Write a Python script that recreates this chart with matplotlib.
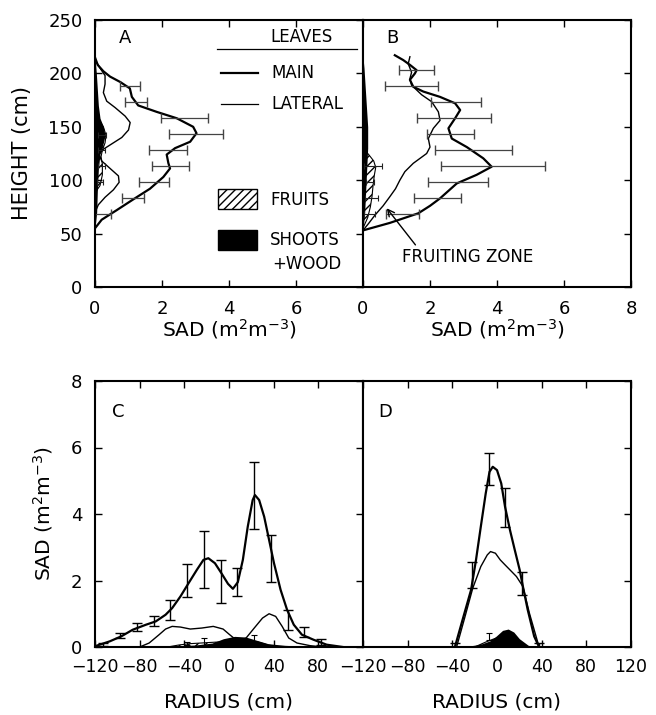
import matplotlib
matplotlib.use("Agg")
import matplotlib.pyplot as plt
from matplotlib.patches import Rectangle

plt.rcParams['font.family'] = ['DejaVu Sans']
plt.rcParams['mathtext.default'] = 'regular'

# ---- panel A: vertical profiles (SAD vs height), tree A ----
a_main_h = [55, 57, 63, 72, 82, 92, 103, 111, 116, 124, 130, 136, 144, 150, 158, 164, 170, 178, 186, 192, 197, 202, 208, 215]
a_main_x = [0, 0.05, 0.2, 0.65, 1.14, 1.64, 2.04, 2.24, 2.19, 2.14, 2.39, 2.84, 3.03, 2.93, 2.44, 1.84, 1.29, 1.1, 1.04, 0.75, 0.45, 0.25, 0.08, 0]
a_lat_h = [70, 77, 84, 91, 98, 104, 111, 118, 124, 129, 134, 140, 147, 154, 160, 168, 174, 182, 190, 198, 205, 213]
a_lat_x = [0, 0.1, 0.3, 0.55, 0.72, 0.7, 0.45, 0.2, 0.12, 0.25, 0.5, 0.8, 1.0, 1.05, 0.9, 0.6, 0.35, 0.25, 0.3, 0.3, 0.15, 0]
a_err_h = [68, 83, 98, 113, 128, 143, 158, 173, 188]
a_err_x = [0.22, 1.14, 1.76, 2.26, 2.18, 3.02, 2.67, 1.22, 1.05]
a_err_dx = [0.25, 0.32, 0.45, 0.55, 0.56, 0.8, 0.71, 0.32, 0.3]
a_shoot_h = [55, 70, 90, 110, 125, 135, 142, 150, 158, 170, 185, 200, 215]
a_shoot_x = [0, 0.05, 0.07, 0.1, 0.15, 0.25, 0.3, 0.25, 0.15, 0.1, 0.07, 0.04, 0]
a_fruit_h = [88, 95, 105, 115, 122, 128, 135, 142, 150, 157, 162]
a_fruit_x = [0, 0.15, 0.22, 0.22, 0.18, 0.22, 0.3, 0.33, 0.25, 0.12, 0]
a_ferr_h = [98, 113, 128, 142]
a_ferr_x = [0.15, 0.2, 0.2, 0.2]
a_ferr_dx = [0.08, 0.1, 0.1, 0.12]

# ---- panel B ----
b_main_h = [53, 60, 69, 76, 83, 90, 97, 105, 112.6, 120.5, 131, 139, 148.6, 158, 165.7, 172, 178, 183, 187.5, 194, 200, 203, 208, 212.5, 217]
b_main_x = [0, 0.8, 1.65, 2.0, 2.3, 2.55, 2.8, 3.39, 3.84, 3.59, 3.1, 2.65, 2.55, 2.75, 2.9, 2.75, 2.3, 1.8, 1.5, 1.4, 1.55, 1.6, 1.4, 1.2, 0.95]
b_lat_h = [53, 60, 67.4, 76, 84.5, 92, 100, 108, 115.8, 125, 131, 139, 148.6, 156, 164, 173.5, 180, 189, 195, 201, 209, 215.6]
b_lat_x = [0, 0.18, 0.36, 0.6, 0.8, 0.97, 1.1, 1.25, 1.5, 1.9, 2.0, 1.95, 2.1, 2.3, 2.25, 2.05, 1.75, 1.45, 1.4, 1.45, 1.35, 1.4]
b_err_h = [68, 83, 98, 113, 128, 143, 158, 173, 188, 203]
b_err_x = [1.18, 2.23, 2.84, 3.88, 3.3, 2.6, 2.71, 2.77, 1.45, 1.6]
b_err_dx = [0.49, 0.7, 0.89, 1.55, 1.15, 0.7, 1.1, 0.74, 0.78, 0.52]
b_shoot_h = [53, 70, 90, 110, 130, 150, 170, 190, 205, 215]
b_shoot_x = [0, 0.05, 0.08, 0.11, 0.14, 0.14, 0.1, 0.06, 0.03, 0]
b_fruit_h = [55, 65, 75, 85, 95, 105, 112, 118, 124, 130]
b_fruit_x = [0, 0.14, 0.22, 0.27, 0.3, 0.34, 0.38, 0.32, 0.17, 0]
b_ferr_h = [68, 83, 98, 113]
b_ferr_x = [0.2, 0.25, 0.2, 0.3]
b_ferr_dx = [0.17, 0.2, 0.12, 0.27]

# ---- panel C: horizontal profiles (SAD vs radius) ----
c_main_r = [-118.5, -106.8, -96.5, -86.2, -74.4, -65.6, -56.8, -50.9, -43.5, -36.2, -28.8, -22.9, -18.5, -12.6, -6.8, -0.9, 3.5, 7.9, 12.4, 16.8, 21.2, 23.2, 27, 31.5, 35.9, 40.3, 46.2, 52, 58, 65.3, 75.6, 87.4, 102]
c_main_s = [0.04, 0.17, 0.32, 0.52, 0.67, 0.77, 0.97, 1.17, 1.52, 1.92, 2.32, 2.62, 2.67, 2.52, 2.22, 1.9, 1.75, 1.95, 2.62, 3.62, 4.42, 4.57, 4.42, 3.92, 3.22, 2.52, 1.72, 1.12, 0.67, 0.37, 0.22, 0.07, 0]
c_lat_r = [-80, -71.5, -62.6, -56.8, -50.9, -43.5, -34.7, -24.4, -14.1, -5.3, 0.6, 7.9, 15.3, 22.6, 30, 35.9, 41.8, 47.6, 53.5, 60.9, 72.6, 84.4]
c_lat_s = [0, 0.12, 0.37, 0.54, 0.62, 0.6, 0.54, 0.57, 0.62, 0.54, 0.37, 0.17, 0.27, 0.57, 0.87, 1.0, 0.92, 0.62, 0.27, 0.12, 0.04, 0]
c_err_r = [-112.5, -97.5, -82.5, -67.5, -52.5, -37.5, -22.5, -7.5, 7.5, 22.5, 37.5, 52.5, 67.5, 82.5]
c_err_s = [0.08, 0.34, 0.6, 0.77, 1.12, 2.0, 2.64, 1.97, 1.95, 4.56, 2.66, 0.82, 0.45, 0.15]
c_err_ds = [0.04, 0.07, 0.13, 0.15, 0.3, 0.5, 0.86, 0.65, 0.43, 1.0, 0.71, 0.3, 0.15, 0.1]
c_shoot_r = [-70, -50, -30, -15, -5, 5, 15, 25, 35, 50, 70, 100]
c_shoot_s = [0, 0.03, 0.06, 0.12, 0.25, 0.32, 0.3, 0.2, 0.1, 0.05, 0.02, 0]
c_fruit_r = [-55, -45, -35, -25, -15, -5, 5, 15, 25, 35, 45]
c_fruit_s = [0, 0.06, 0.1, 0.12, 0.14, 0.16, 0.18, 0.2, 0.16, 0.06, 0]
c_ferr_r = [-37.5, -22.5, 22.5]
c_ferr_s = [0.1, 0.17, 0.25]
c_ferr_ds = [0.04, 0.1, 0.12]

# ---- panel D ----
d_main_r = [-37.7, -30.4, -23.2, -18.8, -14.5, -10.1, -6.7, -3.8, 0, 3.8, 7.2, 11.6, 15.9, 20.3, 23.2, 27.5, 33.3, 37.7]
d_main_s = [0, 0.87, 1.72, 2.62, 3.62, 4.62, 5.27, 5.42, 5.32, 4.92, 4.22, 3.52, 2.92, 2.32, 1.82, 1.12, 0.32, 0]
d_lat_r = [-36.2, -29, -21.7, -14.5, -8.7, -5.8, -1.4, 2.9, 7.2, 11.6, 17.4, 23.2, 29, 37.7]
d_lat_s = [0, 0.87, 1.77, 2.42, 2.77, 2.87, 2.82, 2.62, 2.47, 2.32, 2.12, 1.82, 1.02, 0]
d_err_r = [-37.5, -22.5, -7.5, 7.5, 22.5, 37.5]
d_err_s = [0.06, 2.17, 5.35, 4.2, 1.92, 0.06]
d_err_ds = [0.06, 0.4, 0.48, 0.58, 0.35, 0.06]
d_shoot_r = [-35, -25, -15, -5, 0, 5, 10, 15, 20, 28, 35]
d_shoot_s = [0, 0.03, 0.08, 0.2, 0.35, 0.5, 0.54, 0.45, 0.25, 0.05, 0]
d_fruit_r = [-20, -10, 0, 10, 20, 27]
d_fruit_s = [0, 0.15, 0.28, 0.28, 0.15, 0]
d_ferr_r = [-7.5]
d_ferr_s = [0.32]
d_ferr_ds = [0.1]

sad_ticks = [0, 2, 4, 6, 8]
height_ticks = [0, 50, 100, 150, 200, 250]
radius_ticks = [-120, -80, -40, 0, 40, 80, 120]
sadr_ticks = [0, 2, 4, 6, 8]

sad_label = 'SAD (m$^2$m$^{-3}$)'

fig = plt.figure(figsize=(6.56, 7.15), dpi=100)
W, H = 656, 715


def rect(x0, y0, x1, y1):
    return [x0 / W, 1 - y1 / H, (x1 - x0) / W, (y1 - y0) / H]


axA = fig.add_axes(rect(95, 20, 363, 287))
axB = fig.add_axes(rect(363, 20, 631, 287))
axC = fig.add_axes(rect(95, 381, 363, 647))
axD = fig.add_axes(rect(363, 381, 631, 647))

for ax in (axA, axB, axC, axD):
    for s in ax.spines.values():
        s.set_linewidth(1.5)
    ax.tick_params(direction='in', length=5, width=1, labelsize=13,
                   top=True, right=True)


def vert_panel(ax, mh, mx, lh, lx, eh, ex, edx, sh, sx, fh, fx, feh, fex, fedx):
    ax.fill_betweenx(sh, 0, sx, color='black', lw=0)
    ax.fill_betweenx(fh, 0, fx, facecolor='none', edgecolor='black',
                     hatch='////', lw=0.8)
    ax.plot(mx, mh, color='black', lw=1.6)
    ax.plot(lx, lh, color='black', lw=1.0)
    ax.errorbar(ex, eh, xerr=edx, fmt='none', ecolor='#444444',
                elinewidth=0.9, capsize=3.5, capthick=1)
    ax.errorbar(fex, feh, xerr=fedx, fmt='none', ecolor='#222222',
                elinewidth=0.8, capsize=2.5, capthick=0.8)
    ax.set_xlim(0, 8)
    ax.set_ylim(0, 250)
    ax.set_xticks(sad_ticks)
    ax.set_yticks(height_ticks)
    ax.tick_params(axis='x', pad=9)
    ax.set_xlabel(sad_label, fontsize=14.5)
    ax.xaxis.set_label_coords(0.5, -0.112)


def horiz_panel(ax, mr, ms, lr, ls, er, es, eds, sr, ss, fr, fs, fer, fes, feds):
    ax.fill_between(sr, 0, ss, color='black', lw=0)
    ax.fill_between(fr, 0, fs, facecolor='none', edgecolor='black',
                    hatch='////', lw=0.8)
    ax.plot(mr, ms, color='black', lw=1.6)
    ax.plot(lr, ls, color='black', lw=1.0)
    ax.errorbar(er, es, yerr=eds, fmt='none', ecolor='black',
                elinewidth=1.0, capsize=3.5, capthick=1)
    ax.errorbar(fer, fes, yerr=feds, fmt='none', ecolor='black',
                elinewidth=0.8, capsize=2.5, capthick=0.8)
    ax.set_xlim(-120, 120)
    ax.set_ylim(0, 8)
    ax.set_xticks(radius_ticks)
    ax.set_yticks(sadr_ticks)
    ax.tick_params(axis='x', pad=8, labelsize=12.5)
    ax.set_xlabel('RADIUS (cm)', fontsize=14.5)
    ax.xaxis.set_label_coords(0.5, -0.17)


vert_panel(axA, a_main_h, a_main_x, a_lat_h, a_lat_x, a_err_h, a_err_x, a_err_dx,
           a_shoot_h, a_shoot_x, a_fruit_h, a_fruit_x, a_ferr_h, a_ferr_x, a_ferr_dx)
vert_panel(axB, b_main_h, b_main_x, b_lat_h, b_lat_x, b_err_h, b_err_x, b_err_dx,
           b_shoot_h, b_shoot_x, b_fruit_h, b_fruit_x, b_ferr_h, b_ferr_x, b_ferr_dx)
horiz_panel(axC, c_main_r, c_main_s, c_lat_r, c_lat_s, c_err_r, c_err_s, c_err_ds,
            c_shoot_r, c_shoot_s, c_fruit_r, c_fruit_s, c_ferr_r, c_ferr_s, c_ferr_ds)
horiz_panel(axD, d_main_r, d_main_s, d_lat_r, d_lat_s, d_err_r, d_err_s, d_err_ds,
            d_shoot_r, d_shoot_s, d_fruit_r, d_fruit_s, d_ferr_r, d_ferr_s, d_ferr_ds)

axA.set_xticklabels([str(t) for t in sad_ticks[:-1]] + [''])
axA.tick_params(axis='y', pad=9)
axA.set_ylabel('HEIGHT (cm)', fontsize=15)
axA.yaxis.set_label_coords(-0.235, 0.5)
axB.tick_params(axis='y', left=False, labelleft=False)

axC.set_xticklabels(['\u2212120', '\u221280', '\u221240', '0', '40', '80', ''])
axD.set_xticklabels(['\u2212120', '\u221280', '\u221240', '0', '40', '80', '120'])
axC.tick_params(axis='y', pad=9)
axC.set_ylabel(sad_label, fontsize=14.5)
axC.yaxis.set_label_coords(-0.15, 0.5)
axD.tick_params(axis='y', left=False, labelleft=False)

# panel letters
for ax, letter, (lx, ly) in ((axA, 'A', (0.112, 0.933)), (axB, 'B', (0.108, 0.933)),
                             (axC, 'C', (0.086, 0.883)), (axD, 'D', (0.082, 0.883))):
    ax.text(lx, ly, letter, transform=ax.transAxes, fontsize=13,
            ha='center', va='center')

# legend in panel A
t = axA.transAxes
axA.text(0.77, 0.938, 'LEAVES', transform=t, fontsize=12, ha='center', va='center')
axA.plot([0.455, 0.978], [0.891, 0.891], transform=t, color='black', lw=0.9)
axA.plot([0.47, 0.61], [0.80, 0.80], transform=t, color='black', lw=1.6)
axA.text(0.657, 0.80, 'MAIN', transform=t, fontsize=12, va='center')
axA.plot([0.47, 0.61], [0.685, 0.685], transform=t, color='black', lw=0.9)
axA.text(0.657, 0.685, 'LATERAL', transform=t, fontsize=12, va='center')
axA.add_patch(Rectangle((0.46, 0.292), 0.145, 0.075, transform=t,
                        facecolor='white', edgecolor='black', hatch='////', lw=1))
axA.text(0.653, 0.326, 'FRUITS', transform=t, fontsize=12, va='center')
axA.add_patch(Rectangle((0.46, 0.139), 0.145, 0.074, transform=t,
                        facecolor='black', edgecolor='black', lw=1))
axA.text(0.653, 0.176, 'SHOOTS', transform=t, fontsize=12, va='center')
axA.text(0.66, 0.086, '+WOOD', transform=t, fontsize=12, va='center')

# fruiting zone annotation in B
axB.annotate('FRUITING ZONE', xy=(0.71, 73.7), xytext=(1.16, 28.4),
             fontsize=12, va='center', ha='left',
             arrowprops=dict(arrowstyle='->', lw=1, color='black',
                             shrinkA=0, shrinkB=0, relpos=(0.12, 1.0)))

fig.savefig('out.png', dpi=100)
